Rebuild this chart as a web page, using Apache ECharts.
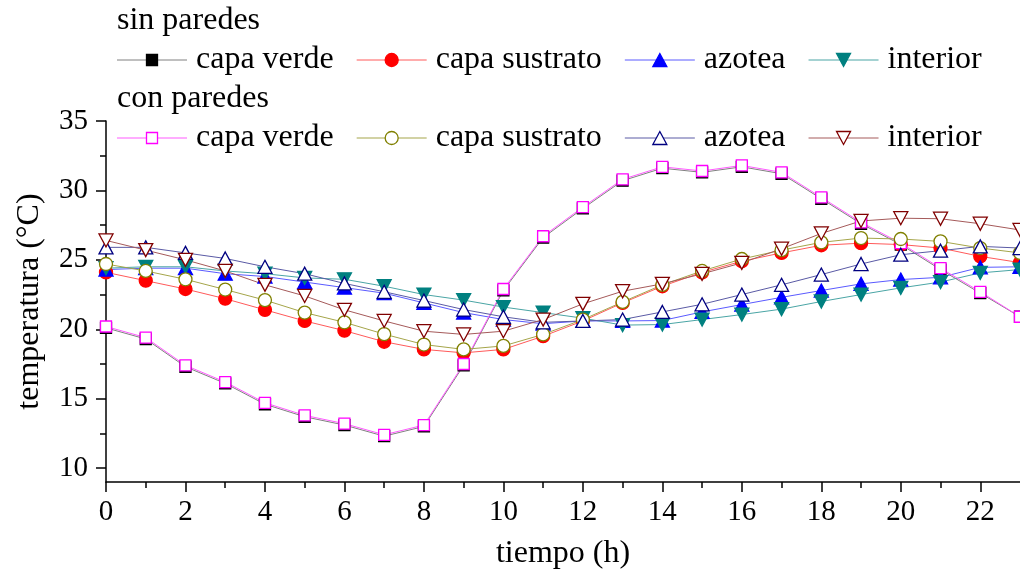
<!DOCTYPE html>
<html>
<head>
<meta charset="utf-8">
<script src="https://cdn.jsdelivr.net/npm/echarts@6/dist/echarts.min.js"></script>
<style>
html,body{margin:0;padding:0;background:#fff;}
#chart{width:1020px;height:575px;}
</style>
</head>
<body>
<div id="chart"></div>
<script>
var hours = [0,1,2,3,4,5,6,7,8,9,10,11,12,13,14,15,16,17,18,19,20,21,22,23];

// sin paredes
var sinCapaVerde    = [20.1,19.3,17.3,16.1,14.6,13.7,13.1,12.3,13.0,17.4,22.8,26.6,28.7,30.7,31.6,31.3,31.7,31.2,29.4,27.6,26.1,24.3,22.6,20.9];
var sinCapaSustrato = [24.1,23.5,22.9,22.2,21.4,20.6,19.9,19.1,18.55,18.3,18.55,19.5,20.6,21.9,23.1,24.1,24.9,25.5,26.05,26.2,26.1,25.85,25.25,24.8];
var sinAzotea       = [24.3,24.4,24.4,24.0,23.8,23.4,23.0,22.6,21.9,21.2,20.7,20.4,20.6,20.6,20.63,21.25,21.78,22.3,22.79,23.27,23.58,23.74,24.46,24.5];
var sinInterior     = [24.4,24.5,24.5,24.2,24.0,23.7,23.6,23.1,22.5,22.1,21.6,21.2,20.8,20.3,20.34,20.7,21.06,21.45,22.0,22.5,22.98,23.4,24.06,24.3];
// con paredes
var conCapaVerde    = [20.2,19.4,17.4,16.2,14.7,13.8,13.2,12.4,13.1,17.5,22.9,26.7,28.8,30.8,31.7,31.4,31.8,31.3,29.5,27.7,26.2,24.4,22.7,20.9];
var conCapaSustrato = [24.7,24.2,23.6,22.86,22.1,21.2,20.5,19.65,18.9,18.55,18.8,19.63,20.7,21.97,23.2,24.2,25.06,25.7,26.26,26.57,26.5,26.33,25.85,25.5];
var conAzotea       = [25.9,25.9,25.5,25.1,24.5,24.0,23.3,22.7,22.07,21.42,20.9,20.5,20.6,20.7,21.25,21.8,22.5,23.2,23.94,24.7,25.37,25.66,25.97,25.85];
var conInterior     = [26.4,25.7,25.0,24.2,23.2,22.4,21.4,20.6,19.86,19.63,19.86,20.7,21.83,22.74,23.27,23.99,24.78,25.8,26.9,27.8,28.0,27.96,27.6,27.15];

var seriesNames = ['capa verde','capa sustrato','azotea','interior'];
var groupTitles = ['sin paredes','con paredes'];
var xMajorTicks = [0,2,4,6,8,10,12,14,16,18,20,22];
var xMinorTicks = [1,3,5,7,9,11,13,15,17,19,21];
var yMajorTicks = [10,15,20,25,30,35];
var yMinorTicks = [12.5,17.5,22.5,27.5,32.5];

var FONT = 'Liberation Serif, Times New Roman, serif';

function pairs(arr){ return hours.map(function(h,i){ return [h, arr[i]]; }); }

function mk(id, name, data, symbol, size, rotate, fill, border, lineColor){
  return {
    id: id, name: name, type: 'line', data: pairs(data),
    symbol: symbol, symbolSize: size, symbolRotate: rotate,
    showAllSymbol: true,
    itemStyle: {color: fill, borderColor: border, borderWidth: 1.3},
    lineStyle: {color: lineColor, width: 1},
    emphasis: {disabled: true},
    animation: false, z: 2
  };
}

var series = [
  mk('s1', seriesNames[0], sinCapaVerde,    'rect',     11, 0,   '#000000', '#000000', '#808080'),
  mk('s2', seriesNames[1], sinCapaSustrato, 'circle',   13, 0,   '#ff0000', '#ff0000', '#ff5a5a'),
  mk('s3', seriesNames[2], sinAzotea,       'triangle', [14,13], 0,   '#0000ff', '#0000ff', '#5a5aff'),
  mk('s4', seriesNames[3], sinInterior,     'triangle', [14,13], 180, '#008080', '#008080', '#4aa5a5'),
  mk('c1', seriesNames[0], conCapaVerde,    'rect',     11, 0,   '#ffffff', '#ff00ff', '#ff5aff'),
  mk('c2', seriesNames[1], conCapaSustrato, 'circle',   13, 0,   '#ffffff', '#808000', '#a5a54a'),
  mk('c3', seriesNames[2], conAzotea,       'triangle', [14,13], 0,   '#ffffff', '#000080', '#5a5aa5'),
  mk('c4', seriesNames[3], conInterior,     'triangle', [14,13], 180, '#ffffff', '#800000', '#a55a5a')
];

function legendFor(ids, top){
  return {
    data: ids.map(function(id,i){ return {name: seriesNames[i]}; }),
    left: 117, top: top, orient: 'horizontal',
    itemWidth: 70, itemHeight: 16, itemGap: 23, itemTextGap: 9,
    padding: 0, selectedMode: false,
    textStyle: {fontFamily: FONT, fontSize: 32, color: '#000'}
  };
}

var chart = echarts.init(document.getElementById('chart'), null, {renderer: 'canvas'});

// Two legends, each bound to its own series group via seriesIndex is not supported,
// so names are duplicated; build legends with explicit icons from series styles.
var option = {
  backgroundColor: '#fff',
  animation: false,
  grid: {left: 106, right: -5, top: 121, bottom: 93, containLabel: false},
  legend: [],
  graphic: [
    {type: 'text', left: 117, top: 5, style: {text: groupTitles[0], font: '32px ' + FONT, fill: '#000'}},
    {type: 'text', left: 117, top: 83, style: {text: groupTitles[1], font: '32px ' + FONT, fill: '#000'}}
  ],
  xAxis: [
    {
      type: 'value', min: 0, max: 23, position: 'bottom',
      name: 'tiempo (h)', nameLocation: 'middle', nameGap: 56,
      nameTextStyle: {fontFamily: FONT, fontSize: 32, color: '#000'},
      axisLine: {show: true, onZero: false, lineStyle: {color: '#000', width: 1.5}},
      axisTick: {show: true, length: 10, customValues: xMajorTicks, lineStyle: {color: '#000', width: 1.5}},
      axisLabel: {show: true, customValues: xMajorTicks, margin: 16, fontFamily: FONT, fontSize: 29, color: '#000'},
      splitLine: {show: false}
    },
    {
      type: 'value', min: 0, max: 23, position: 'bottom', gridIndex: 0,
      axisLine: {show: false, onZero: false},
      axisTick: {show: true, length: 6, customValues: xMinorTicks, lineStyle: {color: '#000', width: 1.5}},
      axisLabel: {show: false},
      splitLine: {show: false}
    }
  ],
  yAxis: [
    {
      type: 'value', min: 9, max: 35, position: 'left',
      name: 'temperatura (°C)', nameLocation: 'middle', nameGap: 60,
      nameTextStyle: {fontFamily: FONT, fontSize: 32, color: '#000'},
      axisLine: {show: true, onZero: false, lineStyle: {color: '#000', width: 1.5}},
      axisTick: {show: true, length: 10, customValues: yMajorTicks, lineStyle: {color: '#000', width: 1.5}},
      axisLabel: {show: true, customValues: yMajorTicks, margin: 18, fontFamily: FONT, fontSize: 29, color: '#000'},
      splitLine: {show: false}
    },
    {
      type: 'value', min: 9, max: 35, position: 'left',
      axisLine: {show: false, onZero: false},
      axisTick: {show: true, length: 6, customValues: yMinorTicks, lineStyle: {color: '#000', width: 1.5}},
      axisLabel: {show: false},
      splitLine: {show: false}
    }
  ],
  series: series
};
chart.setOption(option);

// Legends: draw two rows with graphic elements derived from series styles
var legendRows = [
  {y: 60, list: series.slice(0,4)},
  {y: 138, list: series.slice(4,8)}
];
var g = [];
var ctx = document.createElement('canvas').getContext('2d');
ctx.font = '32px ' + FONT;
legendRows.forEach(function(row){
  var x = 117;
  row.list.forEach(function(s){
    g.push({type: 'line', shape: {x1: x, y1: row.y, x2: x + 70, y2: row.y},
            style: {stroke: s.lineStyle.color, lineWidth: 1}, silent: true});
    var sz = Array.isArray(s.symbolSize) ? s.symbolSize : [s.symbolSize, s.symbolSize];
    var cx = x + 35, cy = row.y;
    if (s.symbol === 'rect') {
      g.push({type: 'rect', shape: {x: cx - sz[0]/2, y: cy - sz[1]/2, width: sz[0], height: sz[1]},
              style: {fill: s.itemStyle.color, stroke: s.itemStyle.borderColor, lineWidth: 1.3}, silent: true});
    } else if (s.symbol === 'circle') {
      g.push({type: 'circle', shape: {cx: cx, cy: cy, r: sz[0]/2},
              style: {fill: s.itemStyle.color, stroke: s.itemStyle.borderColor, lineWidth: 1.3}, silent: true});
    } else {
      var w = sz[0]/2, h = sz[1]/2;
      var pts = s.symbolRotate === 180
        ? [[cx - w, cy - h], [cx + w, cy - h], [cx, cy + h]]
        : [[cx, cy - h], [cx + w, cy + h], [cx - w, cy + h]];
      g.push({type: 'polygon', shape: {points: pts},
              style: {fill: s.itemStyle.color, stroke: s.itemStyle.borderColor, lineWidth: 1.3}, silent: true});
    }
    x += 79;
    g.push({type: 'text', x: x, y: row.y,
            style: {text: s.name, font: '32px ' + FONT, fill: '#000', verticalAlign: 'middle', align: 'left'}, silent: true});
    x += ctx.measureText(s.name).width + 23;
  });
});
chart.setOption({graphic: option.graphic.concat(g)});
</script>
</body>
</html>
